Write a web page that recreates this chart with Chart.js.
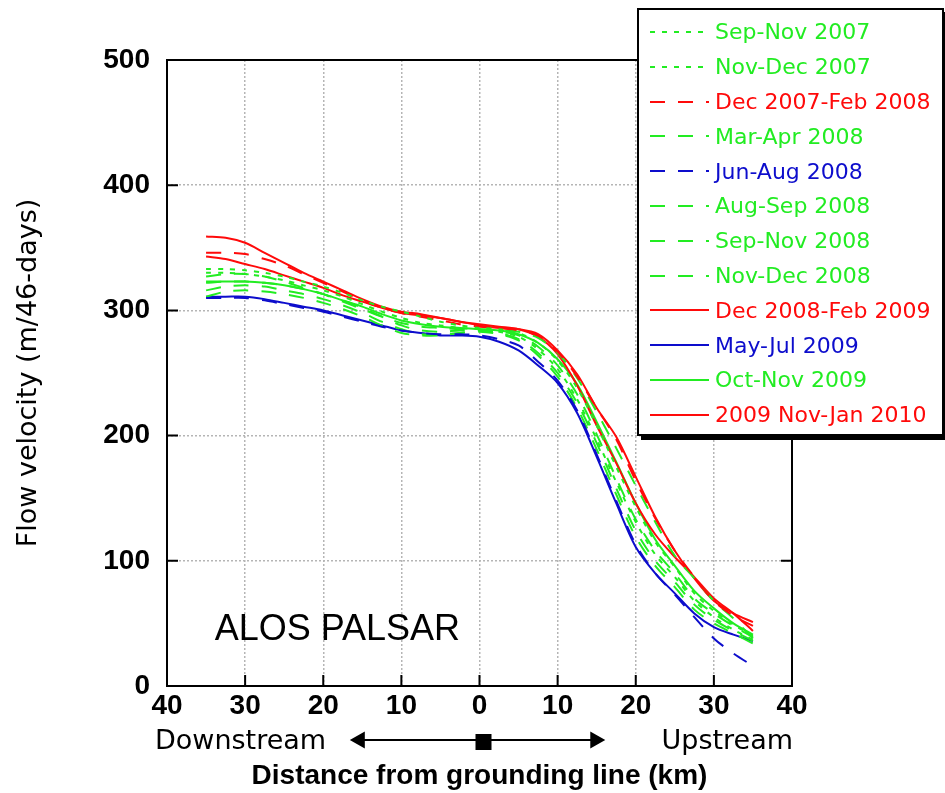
<!DOCTYPE html>
<html>
<head>
<meta charset="utf-8">
<title>ALOS PALSAR flow velocity</title>
<script src="https://cdn.jsdelivr.net/npm/chart.js@4.4.1/dist/chart.umd.min.js"></script>
<style>
  html, body { margin: 0; padding: 0; background: #fff; }
  #wrap { position: relative; width: 945px; height: 793px; }
  #legendBox {
    position: absolute; left: 637px; top: 8px; width: 307px; height: 428px;
    box-sizing: border-box; border: 2px solid #000; box-shadow: 4px 4px 0 #000;
    background: #fff; padding-top: 4.6px;
  }
  .lg-row { display: flex; align-items: center; height: 34.8px; }
  .lg-row svg { margin-left: 11px; flex: none; }
  .lg-row span { margin-left: 6px; font-family: "DejaVu Sans", sans-serif; font-size: 22px; white-space: nowrap; }
</style>
</head>
<body>
<div id="wrap">
  <canvas id="chartFlow"></canvas>
  <div id="legendBox"></div>
</div>
<script>
// distance from grounding line, km (negative = downstream)
const xKm = [-35, -32.5, -30, -27.5, -25, -22.5, -20, -17.5, -15, -12.5, -10, -7.5, -5, -2.5, 0,
             2.5, 5, 7.5, 10, 12.5, 15, 17.5, 20, 22.5, 25, 27.5, 30, 32.5, 35];

// flow velocity, m/46-days
const sepNov2007   = [333, 333, 332, 330, 327, 323, 319, 314, 308, 303, 299, 295, 291, 288, 286,
                      285, 282, 274, 260, 238, 208, 175, 143, 115, 95, 74, 60, 49, 40];
const novDec2007   = [330, 330, 329, 327, 324, 320, 316, 311, 305, 299, 294, 290, 288, 286, 285,
                      283, 279, 269, 253, 229, 197, 163, 131, 105, 87, 68, 55, 45, 37];
const dec2007Feb08 = [346, 346, 345, 341, 336, 329, 322, 315, 308, 302, 298, 295, 292, 289, 287,
                      286, 284, 280, 267, 247, 222, 197, 164, 134, 108, 87, 68, 56, 48];
const marApr2008   = [327, 329, 329, 327, 323, 318, 313, 307, 301, 295, 290, 287, 286, 285, 285,
                      284, 283, 278, 266, 246, 219, 190, 160, 131, 104, 86, 68, 54, 38];
const junAug2008   = [310, 310, 310, 308, 305, 302, 299, 295, 291, 287, 284, 282, 281, 281, 280,
                      277, 272, 259, 244, 220, 185, 148, 113, 90, 73, 55, 38, 26, 16];
const augSep2008   = [322, 323, 323, 322, 320, 317, 313, 308, 302, 295, 288, 284, 283, 284, 284,
                      283, 280, 271, 256, 233, 201, 166, 133, 108, 90, 70, 58, 48, 39];
const sepNov2008   = [316, 319, 320, 319, 316, 313, 309, 304, 298, 291, 285, 281, 281, 282, 284,
                      282, 277, 266, 250, 226, 194, 158, 124, 100, 83, 65, 53, 44, 36];
const novDec2008   = [311, 315, 316, 315, 313, 310, 306, 301, 295, 288, 282, 280, 280, 282, 283,
                      281, 276, 264, 247, 222, 189, 153, 119, 96, 79, 61, 50, 42, 34];
const dec2008Feb09 = [343, 341, 337, 333, 328, 323, 318, 312, 307, 302, 298, 296, 294, 291, 289,
                      287, 285, 279, 265, 240, 208, 178, 146, 121, 103, 87, 70, 58, 44];
const mayJul2009   = [311, 311, 311, 309, 306, 303, 300, 296, 292, 288, 284, 282, 280, 280, 279,
                      275, 268, 256, 242, 218, 183, 146, 111, 90, 74, 58, 47, 41, 36];
const octNov2009   = [323, 323, 323, 322, 320, 317, 313, 308, 303, 297, 292, 289, 287, 286, 285,
                      284, 281, 274, 261, 241, 211, 179, 146, 117, 96, 76, 62, 50, 41];
const nov2009Jan10 = [359, 358, 354, 346, 338, 330, 323, 316, 309, 303, 299, 297, 294, 291, 288,
                      286, 285, 281, 268, 249, 222, 199, 167, 135, 108, 86, 68, 58, 51];

const xTicks = [-40, -30, -20, -10, 0, 10, 20, 30, 40];
const yTicks = [0, 100, 200, 300, 400, 500];

const seriesLabels = ['Sep-Nov 2007', 'Nov-Dec 2007', 'Dec 2007-Feb 2008', 'Mar-Apr 2008',
  'Jun-Aug 2008', 'Aug-Sep 2008', 'Sep-Nov 2008', 'Nov-Dec 2008',
  'Dec 2008-Feb 2009', 'May-Jul 2009', 'Oct-Nov 2009', '2009 Nov-Jan 2010'];
const seriesData = [sepNov2007, novDec2007, dec2007Feb08, marApr2008, junAug2008, augSep2008,
  sepNov2008, novDec2008, dec2008Feb09, mayJul2009, octNov2009, nov2009Jan10];

const GREEN = '#22ec22', RED = '#ff0a0a', BLUE = '#0d0dcc';
const seriesColors = [GREEN, GREEN, RED, GREEN, BLUE, GREEN, GREEN, GREEN, RED, BLUE, GREEN, RED];
const SHORT = [5, 7], LONG = [15, 13];
const seriesDash = [SHORT, SHORT, LONG, LONG, LONG, LONG, LONG, LONG, [], [], [], []];

const datasets = seriesData.map((vals, i) => ({
    label: seriesLabels[i],
    data: vals.map((v, j) => ({ x: xKm[j], y: v })),
    borderColor: seriesColors[i],
    borderDash: seriesDash[i],
    borderWidth: 2,
    pointRadius: 0,
    tension: 0.3,
    fill: false,
}));

// html legend
const legendBox = document.getElementById('legendBox');
seriesLabels.forEach((lbl, i) => {
    const row = document.createElement('div');
    row.className = 'lg-row';
    const dash = seriesDash[i].length ? seriesDash[i].join(' ') : 'none';
    row.innerHTML = '<svg width="59" height="6"><line x1="0" y1="3" x2="59" y2="3" stroke="' +
        seriesColors[i] + '" stroke-width="2" stroke-dasharray="' + dash + '"/></svg>' +
        '<span style="color:' + seriesColors[i] + '">' + lbl + '</span>';
    legendBox.appendChild(row);
});

const SANS = '"Liberation Sans", Arial, sans-serif';

const decorPlugin = {
    id: 'decor',
    afterDraw(chart) {
        const { ctx, chartArea: a, scales: { x, y } } = chart;
        ctx.save();
        ctx.strokeStyle = '#000';
        ctx.lineWidth = 2;
        ctx.strokeRect(a.left, a.top, a.right - a.left, a.bottom - a.top);
        // inward tick marks
        ctx.beginPath();
        xTicks.slice(1, -1).forEach(v => {
            const px = x.getPixelForValue(v);
            ctx.moveTo(px, a.bottom); ctx.lineTo(px, a.bottom - 11);
        });
        yTicks.slice(1, -1).forEach(v => {
            const py = y.getPixelForValue(v);
            ctx.moveTo(a.left, py); ctx.lineTo(a.left + 11, py);
            ctx.moveTo(a.right, py); ctx.lineTo(a.right - 11, py);
        });
        ctx.stroke();

        // Downstream <-- [] --> Upstream
        const ay = a.bottom + 54;
        const x1 = x.getPixelForValue(-16.6), x2 = x.getPixelForValue(16.1), x0 = x.getPixelForValue(0);
        ctx.lineWidth = 2;
        ctx.beginPath();
        ctx.moveTo(x1 + 10, ay); ctx.lineTo(x2 - 10, ay);
        ctx.stroke();
        ctx.fillStyle = '#000';
        ctx.beginPath();
        ctx.moveTo(x1, ay); ctx.lineTo(x1 + 15, ay - 8.5); ctx.lineTo(x1 + 15, ay + 8.5); ctx.closePath();
        ctx.moveTo(x2, ay); ctx.lineTo(x2 - 15, ay - 8.5); ctx.lineTo(x2 - 15, ay + 8.5); ctx.closePath();
        ctx.fill();
        ctx.fillRect(x0 - 4, ay - 6, 16, 16);

        ctx.font = '27px "DejaVu Sans", sans-serif';
        ctx.textBaseline = 'middle';
        ctx.textAlign = 'left';
        ctx.fillText('Downstream', 155, ay + 2);
        ctx.textAlign = 'right';
        ctx.fillText('Upstream', a.right + 1, ay + 2);

        ctx.font = '36px ' + SANS;
        ctx.textAlign = 'left';
        ctx.textBaseline = 'alphabetic';
        ctx.fillText('ALOS PALSAR', x.getPixelForValue(-33.9), y.getPixelForValue(36.5));
        ctx.restore();
    }
};

const cvs = document.getElementById('chartFlow');
const chartFlow = new Chart(cvs, {
    type: 'line',
    data: { datasets },
    plugins: [decorPlugin],
    options: {
        responsive: true,
        maintainAspectRatio: false,
        animation: false,
        layout: { padding: { top: 60, right: 153, left: 0, bottom: 0 } },
        plugins: {
            legend: { display: false },
            tooltip: { enabled: false },
        },
        scales: {
            x: {
                type: 'linear',
                min: -40,
                max: 40,
                afterFit: (s) => { s.height = 107; },
                afterBuildTicks: (s) => { s.ticks = xTicks.map(v => ({ value: v })); },
                ticks: {
                    callback: (v) => Math.abs(v),
                    color: '#000',
                    padding: 3,
                    maxRotation: 0,
                    font: { family: SANS, size: 28, weight: 'bold' },
                },
                grid: { color: '#b5b5b5', lineWidth: 1.5, drawTicks: false },
                border: { display: false, dash: [2, 2] },
                title: {
                    display: true,
                    text: 'Distance from grounding line (km)',
                    color: '#000',
                    font: { family: SANS, size: 28, weight: 'bold' },
                    padding: { top: 0, bottom: 0 },
                },
            },
            y: {
                min: 0,
                max: 500,
                afterFit: (s) => { s.width = 167; },
                afterBuildTicks: (s) => { s.ticks = yTicks.map(v => ({ value: v })); },
                ticks: {
                    color: '#000',
                    padding: 17,
                    font: { family: SANS, size: 28, weight: 'bold' },
                },
                grid: { color: '#b5b5b5', lineWidth: 1.5, drawTicks: false },
                border: { display: false, dash: [2, 2] },
                title: {
                    display: true,
                    text: 'Flow velocity (m/46-days)',
                    color: '#000',
                    font: { family: '"DejaVu Sans", sans-serif', size: 27 },
                    padding: { top: 13, bottom: 0 },
                },
            },
        },
    },
});
</script>
</body>
</html>
